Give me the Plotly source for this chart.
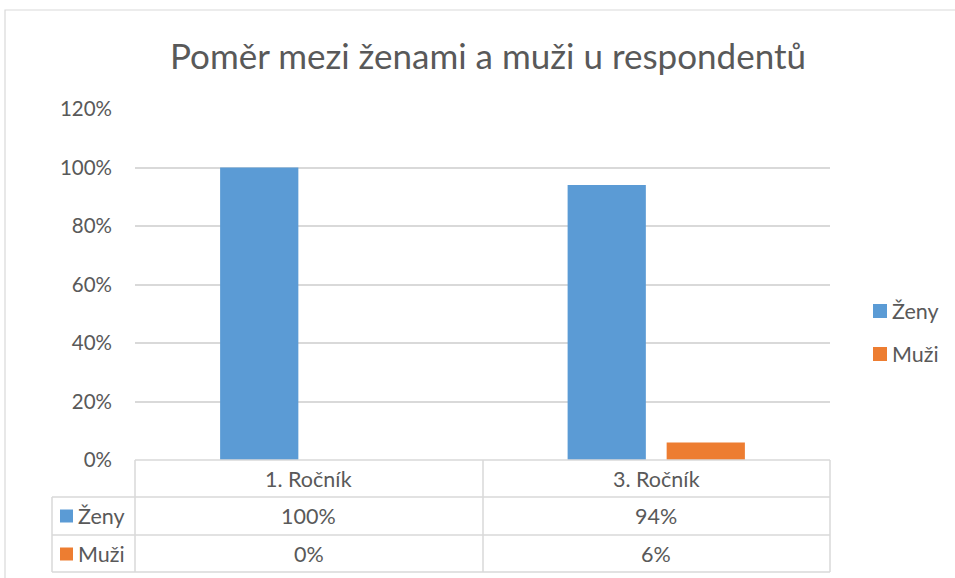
import plotly.graph_objects as go

categories = ["1. Ročník", "3. Ročník"]
series_names = ["Ženy", "Muži"]
zeny = [1.00, 0.94]
muzi = [0.00, 0.06]
y_ticks = [0, 0.2, 0.4, 0.6, 0.8, 1.0, 1.2]
title_text = "Poměr mezi ženami a muži u respondentů"

colors = ["#5B9BD5", "#ED7D31"]
text_color = "#595959"
grid_color = "#D9D9D9"
FONT = "Lato, 'Open Sans', sans-serif"

W, H = 955, 578
L, R, T, B = 135, 830, 109, 460  # plot area in px


def px(x):
    return (x - L) / (R - L)


def py(y):
    return (B - y) / (B - T)


fig = go.Figure()
for name, vals, c in zip(series_names, [zeny, muzi], colors):
    fig.add_trace(go.Bar(x=categories, y=vals, name=name, marker=dict(color=c, line=dict(width=0)),
                         showlegend=False))

shapes = []
# chart border
shapes.append(dict(type="rect", xref="paper", yref="paper", x0=px(5), x1=px(990), y0=py(10), y1=py(600),
                   line=dict(color="#D9D9D9", width=1.2), layer="below"))
line = dict(color=grid_color, width=1.5)
# table horizontal lines
shapes.append(dict(type="line", xref="paper", yref="paper", x0=px(135), x1=px(830), y0=py(460), y1=py(460), line=line))
for yy in [497, 535, 572]:
    shapes.append(dict(type="line", xref="paper", yref="paper", x0=px(52), x1=px(830), y0=py(yy), y1=py(yy), line=line))
# vertical lines
shapes.append(dict(type="line", xref="paper", yref="paper", x0=px(52), x1=px(52), y0=py(497), y1=py(572), line=line))
for xx in [135, 483, 830]:
    shapes.append(dict(type="line", xref="paper", yref="paper", x0=px(xx), x1=px(xx), y0=py(460), y1=py(572), line=line))

annotations = []
row_y = [516, 554]
legend_y = [311, 354]
font_tbl = dict(family=FONT, size=21.5, color=text_color)
for cat in categories:
    annotations.append(dict(x=cat, y=py(479), xref="x", yref="paper", text=cat, showarrow=False,
                            font=font_tbl, xanchor="center", yanchor="middle"))
for ry, ly, name, vals, c in zip(row_y, legend_y, series_names, [zeny, muzi], colors):
    # table row header
    shapes.append(dict(type="rect", xref="paper", yref="paper", x0=px(60), x1=px(73), y0=py(ry - 6.5), y1=py(ry + 6.5),
                       fillcolor=c, line=dict(width=0)))
    annotations.append(dict(x=px(76), y=py(ry), xref="paper", yref="paper", text=name, showarrow=False,
                            font=font_tbl, xanchor="left", yanchor="middle"))
    for cat, v in zip(categories, vals):
        annotations.append(dict(x=cat, y=py(ry), xref="x", yref="paper", text=f"{round(v * 100)}%",
                                showarrow=False, font=font_tbl, xanchor="center", yanchor="middle"))
    # legend
    shapes.append(dict(type="rect", xref="paper", yref="paper", x0=px(873), x1=px(887), y0=py(ly - 7), y1=py(ly + 7),
                       fillcolor=c, line=dict(width=0)))
    annotations.append(dict(x=px(890), y=py(ly), xref="paper", yref="paper", text=name, showarrow=False,
                            font=font_tbl, xanchor="left", yanchor="middle"))

fig.update_layout(
    width=W, height=H,
    margin=dict(l=L, r=W - R, t=T, b=H - B, pad=0),
    paper_bgcolor="white", plot_bgcolor="white",
    title=dict(text=title_text, x=px(488), xref="paper", xanchor="center", y=1 - 57 / H, yanchor="middle",
               font=dict(family=FONT, size=35, color=text_color)),
    barmode="group", bargap=0.43, bargroupgap=0.21,
    showlegend=False,
    xaxis=dict(showticklabels=False, showgrid=False, showline=False, zeroline=False, ticks=""),
    yaxis=dict(range=[0, 1.2], tickvals=y_ticks, tickformat=".0%", showgrid=True, gridcolor=grid_color,
               gridwidth=1.5, zeroline=False, showline=False, ticks="", ticklabelstandoff=22,
               tickfont=dict(family=FONT, size=20.5, color=text_color)),
    shapes=shapes, annotations=annotations,
)

fig.write_html("out.html", config={"displayModeBar": False},
               post_script="document.body.style.margin='0';document.body.style.overflow='hidden';")
